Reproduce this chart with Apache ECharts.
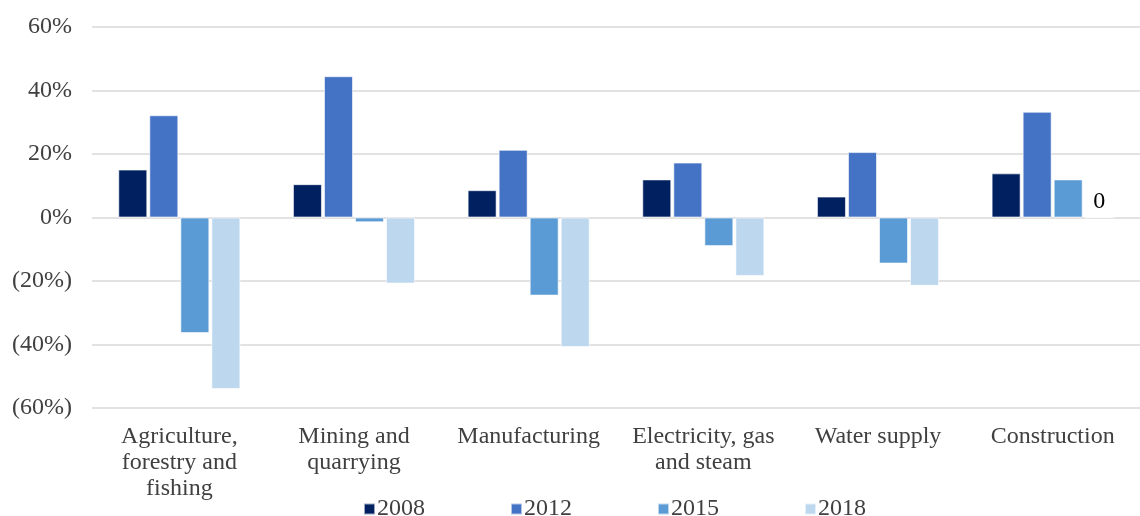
<!DOCTYPE html>
<html>
<head>
<meta charset="utf-8">
<title>Change by sector</title>
<script src="https://cdn.jsdelivr.net/npm/echarts@6/dist/echarts.min.js"></script>
<style>
  html, body { margin: 0; padding: 0; background: #ffffff; }
  #chart { width: 1140px; height: 516px; }
</style>
</head>
<body>
<div id="chart"></div>
<script>
// Sector categories (line breaks as shown on the axis)
const sectors = [
  'Agriculture,\nforestry and\nfishing',
  'Mining and\nquarrying',
  'Manufacturing',
  'Electricity, gas\nand steam',
  'Water supply',
  'Construction'
];

// Percentage change per sector, one array per year
const years = ['2008', '2012', '2015', '2018'];
const v2008 = [15.1, 10.5, 8.6, 12.0, 6.6, 13.9];
const v2012 = [32.2, 44.5, 21.3, 17.3, 20.6, 33.3];
const v2015 = [-36.4, -1.5, -24.6, -9.0, -14.5, 12.0];
const v2018 = [-54.0, -20.8, -40.8, -18.4, -21.5, 0];

// Value-axis ticks
const yMin = -60;
const yMax = 60;
const yStep = 20;

const colors = ['#002060', '#4472C4', '#5B9BD5', '#BDD7EE'];
const seriesValues = [v2008, v2012, v2015, v2018];

const font = 'Liberation Serif, Times New Roman, serif';

function pctLabel(v) {
  return v < 0 ? '(' + Math.abs(v) + '%)' : v + '%';
}

const series = years.map((name, i) => ({
  name: name,
  type: 'bar',
  barWidth: 29,
  barGap: '7%',
  itemStyle: { color: colors[i], borderColor: 'rgba(255,255,255,0.6)', borderWidth: 1 },
  data: seriesValues[i].map((v, j) => {
    // the zero-valued Construction 2018 bar carries a value label
    if (i === 3 && j === 5) {
      return {
        value: v,
        label: {
          show: true,
          position: 'top',
          distance: 3,
          formatter: '{c}',
          fontFamily: font,
          fontSize: 24,
          color: '#000000'
        }
      };
    }
    return v;
  })
}));

const chart = echarts.init(document.getElementById('chart'), null, { renderer: 'canvas' });
chart.setOption({
  animation: false,
  backgroundColor: '#ffffff',
  color: colors,
  grid: { left: 92, right: 0, top: 27, bottom: 108, containLabel: false },
  legend: {
    bottom: -10,
    left: 358,
    itemWidth: 11,
    itemHeight: 11,
    itemGap: 85,
    icon: 'rect',
    textStyle: { fontFamily: font, fontSize: 24, color: '#404040', padding: [0, 0, 0, -3] },
    data: years
  },
  xAxis: {
    type: 'category',
    data: sectors,
    axisLine: { show: false, onZero: false },
    axisTick: { show: false },
    axisLabel: {
      interval: 0,
      margin: 16,
      fontFamily: font,
      fontSize: 24,
      lineHeight: 26,
      color: '#404040'
    }
  },
  yAxis: {
    type: 'value',
    min: yMin,
    max: yMax,
    interval: yStep,
    axisLine: { show: false },
    axisTick: { show: false },
    splitLine: { lineStyle: { color: '#d9d9d9', width: 1.5 } },
    axisLabel: {
      margin: 20,
      fontFamily: font,
      fontSize: 24,
      color: '#404040',
      formatter: pctLabel
    }
  },
  series: series
});
</script>
</body>
</html>
